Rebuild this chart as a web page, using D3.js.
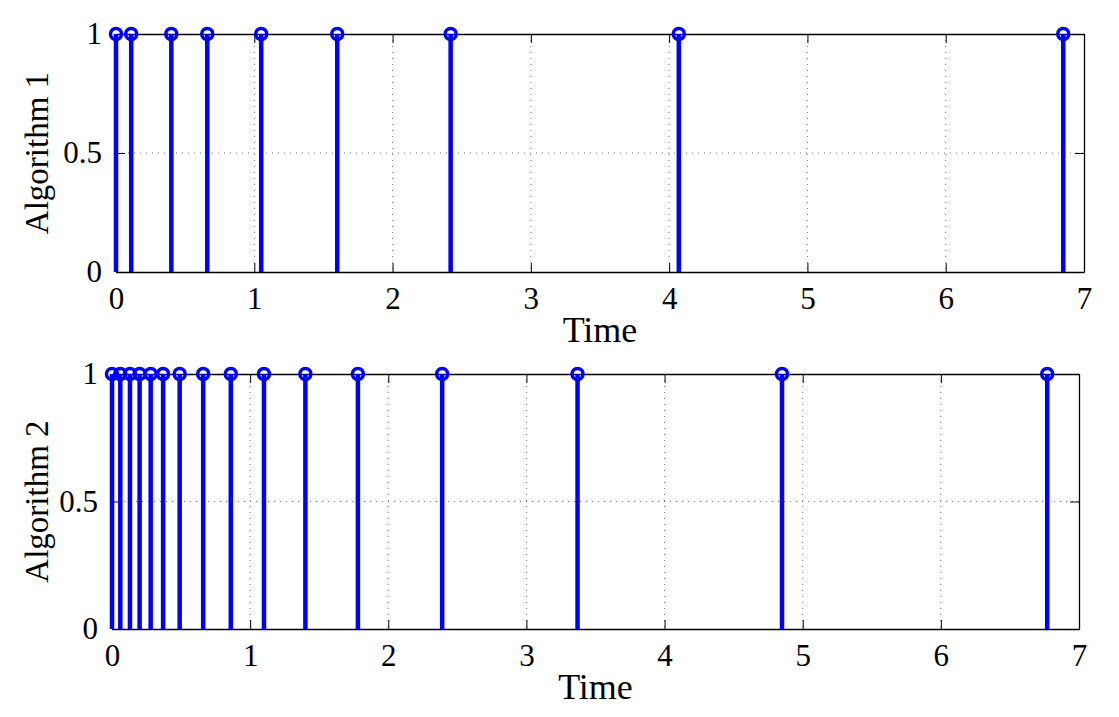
<!DOCTYPE html>
<html>
<head>
<meta charset="utf-8">
<script src="https://cdn.jsdelivr.net/npm/d3@7"></script>
<style>
  body { margin: 0; background: #fff; }
  text { font-family: "Liberation Serif", "Times New Roman", serif; fill: #000; }
</style>
</head>
<body>
<div id="graph"></div>
<script>
// event times
var alg1Times = [0, 0.11, 0.4, 0.66, 1.05, 1.6, 2.42, 4.07, 6.85];
var alg2Times = [0, 0.06, 0.13, 0.2, 0.28, 0.37, 0.49, 0.66, 0.86, 1.1, 1.4, 1.78, 2.39, 3.37, 4.85, 6.77];
var xTicks = [0, 1, 2, 3, 4, 5, 6, 7];
var yTicks = [0, 0.5, 1];
var yTickLabels = ['0', '0.5', '1'];
var panelLabels = ['Algorithm 1', 'Algorithm 2'];
var xLabel = 'Time';

var chart_width = 1119;
var chart_height = 717;
var serif = '"Liberation Serif", "Times New Roman", serif';

var svg = d3.select('#graph')
  .append('svg')
  .attr('width', chart_width)
  .attr('height', chart_height);

// panel boxes in pixels
var panels = [
  { left: 116, right: 1084, top: 34, bottom: 272, data: alg1Times, label: panelLabels[0] },
  { left: 112, right: 1079, top: 374, bottom: 629, data: alg2Times, label: panelLabels[1] }
];

panels.forEach(function(p) {
  var x_scale = d3.scaleLinear().domain([0, 7]).range([p.left, p.right]);
  var y_scale = d3.scaleLinear().domain([0, 1]).range([p.bottom, p.top]);
  var g = svg.append('g');

  // dotted grid
  g.selectAll('.vgrid')
    .data(xTicks.slice(1, -1))
    .enter()
    .append('line')
    .attr('x1', function(d) { return x_scale(d); })
    .attr('x2', function(d) { return x_scale(d); })
    .attr('y1', p.top)
    .attr('y2', p.bottom)
    .attr('stroke', '#777')
    .attr('stroke-width', 1)
    .attr('stroke-dasharray', '1,5');

  g.selectAll('.hgrid')
    .data([0.5])
    .enter()
    .append('line')
    .attr('x1', p.left)
    .attr('x2', p.right)
    .attr('y1', function(d) { return y_scale(d); })
    .attr('y2', function(d) { return y_scale(d); })
    .attr('stroke', '#777')
    .attr('stroke-width', 1)
    .attr('stroke-dasharray', '1,5');

  // axes, ticks pointing in
  var x_axis = d3.axisBottom(x_scale).tickValues(xTicks).tickSizeInner(-9).tickSizeOuter(0)
    .tickPadding(18).tickFormat(d3.format('d'));
  var x_top = d3.axisTop(x_scale).tickValues(xTicks).tickSizeInner(-9).tickSizeOuter(0).tickFormat('');
  var y_axis = d3.axisLeft(y_scale).tickValues(yTicks).tickSizeInner(-9).tickSizeOuter(0).tickPadding(14)
    .tickFormat(function(d, i) { return yTickLabels[i]; });
  var y_right = d3.axisRight(y_scale).tickValues(yTicks).tickSizeInner(-9).tickSizeOuter(0).tickFormat('');

  var gx = g.append('g').attr('transform', 'translate(0,' + p.bottom + ')').call(x_axis);
  g.append('g').attr('transform', 'translate(0,' + p.top + ')').call(x_top);
  var gy = g.append('g').attr('transform', 'translate(' + p.left + ',0)').call(y_axis);
  g.append('g').attr('transform', 'translate(' + p.right + ',0)').call(y_right);

  g.selectAll('.domain').attr('stroke', '#000').attr('stroke-width', 1.3);
  g.selectAll('.tick line').attr('stroke', '#000').attr('stroke-width', 1);
  gx.selectAll('text').attr('font-family', serif).attr('font-size', 31).attr('dy', '0.6em');
  gy.selectAll('text').attr('font-family', serif).attr('font-size', 31);

  // stems
  g.selectAll('.stem')
    .data(p.data)
    .enter()
    .append('line')
    .attr('x1', function(d) { return x_scale(d); })
    .attr('x2', function(d) { return x_scale(d); })
    .attr('y1', y_scale(0))
    .attr('y2', y_scale(1))
    .attr('stroke', '#0000ff')
    .attr('stroke-width', 4.5);

  g.selectAll('.head')
    .data(p.data)
    .enter()
    .append('circle')
    .attr('cx', function(d) { return x_scale(d); })
    .attr('cy', y_scale(1))
    .attr('r', 5.5)
    .attr('fill', 'none')
    .attr('stroke', '#0000ff')
    .attr('stroke-width', 3.5);

  // labels
  svg.append('text')
    .attr('x', (p.left + p.right) / 2)
    .attr('y', p.bottom + 70)
    .attr('text-anchor', 'middle')
    .style('font-family', serif)
    .style('font-size', '36px')
    .text(xLabel);

  svg.append('text')
    .attr('transform', 'translate(48,' + ((p.top + p.bottom) / 2) + ') rotate(-90)')
    .attr('text-anchor', 'middle')
    .style('font-family', serif)
    .style('font-size', '33px')
    .text(p.label);
});
</script>
</body>
</html>
